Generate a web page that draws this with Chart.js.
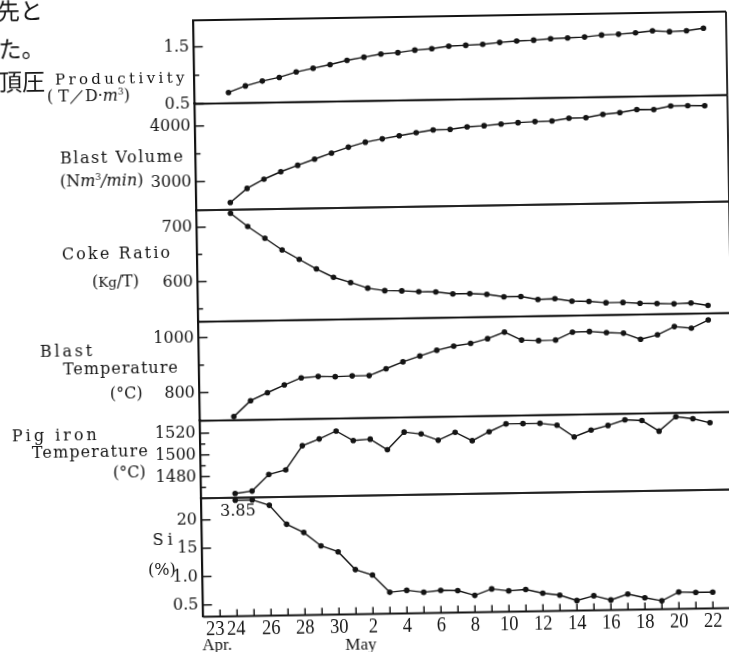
<!DOCTYPE html>
<html>
<head>
<meta charset="utf-8">
<script src="https://cdn.jsdelivr.net/npm/chart.js@4.4.1/dist/chart.umd.min.js"></script>
<style>
  html, body { margin: 0; padding: 0; background: #fff; overflow: hidden; width: 729px; height: 652px; }
  /* the scanned figure sits slightly tilted on the page */
  #sheet { position: absolute; left: 0; top: 0; width: 760px; height: 700px;
           transform: rotate(-0.945deg); transform-origin: 460px 320px; }
  #sheet canvas { position: absolute; left: 0; }
  .lab { position: absolute; white-space: nowrap; font-family: "DejaVu Serif", serif; font-size: 16px;
         color: #141414; line-height: 1; transform: translateY(-50%); }
  .small { font-size: 15px; }
  .jp { position: absolute; white-space: nowrap; font-family: "Noto Sans CJK JP", sans-serif; font-size: 23px;
        color: #141414; line-height: 1; transform: translateY(-50%); }
  sup { font-size: 9px; vertical-align: 6px; }
</style>
</head>
<body>
<div id="sheet"></div>
<script>
// Datos de operacion, 24 Abr - 22 May (un punto por dia)
const dates = ["4/24","4/25","4/26","4/27","4/28","4/29","4/30","5/1","5/2","5/3","5/4","5/5","5/6","5/7",
  "5/8","5/9","5/10","5/11","5/12","5/13","5/14","5/15","5/16","5/17","5/18","5/19","5/20","5/21","5/22"];

const productivity = [0.69,0.80,0.88,0.94,1.03,1.09,1.15,1.22,1.27,1.32,1.34,1.38,1.40,1.44,1.45,
  1.46,1.49,1.51,1.52,1.54,1.55,1.56,1.59,1.60,1.62,1.65,1.63,1.64,1.68];
const blastVolume = [2615,2865,3025,3155,3265,3370,3475,3575,3660,3715,3765,3815,3860,3865,3905,
  3920,3945,3965,3980,3985,4030,4035,4090,4115,4165,4160,4220,4220,4215];
const cokeRatio = [725,700,678,656,638,620,604,594,583,578,577,575,574,570,570,
  568,563,563,557,558,553,552,549,549,547,546,545,546,541];
const blastTemp = [711,768,796,823,848,852,850,852,852,876,900,920,940,954,963,
  979,1002,972,969,970,998,999,994,991,968,983,1012,1005,1034];
const pigIronTemp = [1464,1466,1481,1485,1507,1513,1520,1511,1512,1502,1518,1516,1510,1517,1509,
  1517,1524,1524,1524,1522,1511,1517,1521,1526,1525,1515,1528,1526,1522];
const silicon = [3.85,2.34,2.24,1.90,1.75,1.51,1.40,1.08,0.98,0.67,0.70,0.66,0.69,0.68,0.59,
  0.70,0.66,0.68,0.61,0.57,0.47,0.55,0.47,0.57,0.50,0.44,0.59,0.58,0.58];
const SI_CEIL = 2.34; // valores fuera de escala (3.85) se dibujan en el techo

// ticks del eje y (los que no tienen texto son marcas cortas)
const prodTicks = [0.5, 1.0, 1.5],            prodText = ["0.5", "", "1.5"];
const volTicks = [3000, 3500, 4000],          volText = ["3000", "", "4000"];
const cokeTicks = [550, 600, 650, 700],       cokeText = ["", "600", "", "700"];
const btTicks = [800, 900, 1000],             btText = ["800", "", "1000"];
const pigTicks = [1470,1480,1490,1500,1510,1520], pigText = ["", "1480", "", "1500", "", "1520"];
const siTicks = [0.5, 1.0, 1.5, 2.0],         siText = ["0.5", "1.0", "15", "20"];

// eje x: 23 Abr = 0 ... 22 May = 29
const xTickDays = [0,1,3,5,7,9,11,13,15,17,19,21,23,25,27,29];
const xTickText = ["23","24","26","28","30","2","4","6","8","10","12","14","16","18","20","22"];

const INK = "#141414";
const X_LEFT = 198.3, X_RIGHT = 731, X_MIN = -1, X_MAX = 30.34, CW = 770, MARGIN = 26;

const panels = [
  { values: productivity, min: 0.5,    max: 1.966,  ticks: prodTicks, text: prodText, top: 16,    bottom: 99.5 },
  { values: blastVolume,  min: 2486,   max: 4399,   ticks: volTicks,  text: volText,  top: 99.5,  bottom: 206 },
  { values: cokeRatio,    min: 526.3,  max: 731.3,  ticks: cokeTicks, text: cokeText, top: 206,   bottom: 317.5 },
  { values: blastTemp,    min: 697.8,  max: 1057.8, ticks: btTicks,   text: btText,   top: 317.5, bottom: 416.5 },
  { values: pigIronTemp,  min: 1460.1, max: 1531.5, ticks: pigTicks,  text: pigText,  top: 416.5, bottom: 494 },
  { values: silicon,      min: 0.292,  max: 2.383,  ticks: siTicks,   text: siText,   top: 494,   bottom: 612.5, ceil: SI_CEIL },
];

const sheet = document.getElementById("sheet");

function line(ctx, x1, y1, x2, y2, w) {
  ctx.lineWidth = w;
  ctx.beginPath(); ctx.moveTo(x1, y1); ctx.lineTo(x2, y2); ctx.stroke();
}

// marco del panel, marcas hacia adentro y eje de fechas
const frame = {
  id: "frame",
  afterDraw(chart, args, o) {
    const { ctx, chartArea: a, scales } = chart;
    ctx.save();
    ctx.strokeStyle = INK;
    ctx.fillStyle = INK;
    line(ctx, a.left, a.top, a.right, a.top, o.topW);
    line(ctx, a.right, a.top, a.right, a.bottom, 1.8);
    line(ctx, a.left, a.bottom, a.right, a.bottom, o.bottomW);
    const y = scales.y;
    y.ticks.forEach((t) => {
      const py = y.getPixelForValue(t.value);
      line(ctx, a.left, py, a.left + (t.label ? 9 : 5), py, 1.5);
    });
    if (o.dateAxis) {
      const x = scales.x;
      for (let d = 0; d <= 29; d++) {
        const px = x.getPixelForValue(d);
        line(ctx, px, a.bottom, px, a.bottom - 7, 1.5);
      }
      ctx.textAlign = "center";
      ctx.textBaseline = "middle";
      ctx.font = '21px "Liberation Serif", serif';
      xTickDays.forEach((d, i) => {
        const px = x.getPixelForValue(d) + (i === 0 ? -5 : i === 1 ? -1 : 0);
        ctx.save();
        ctx.translate(px, a.bottom + 13);
        ctx.scale(0.88, 1);
        ctx.fillText(xTickText[i], 0, 0);
        ctx.restore();
      });
      ctx.font = '17px "Liberation Serif", serif';
      ctx.fillText("Apr.", x.getPixelForValue(-0.2), a.bottom + 29);
      ctx.fillText("May", x.getPixelForValue(8.26), a.bottom + 31);
    }
    ctx.restore();
  },
};

panels.forEach((p, k) => {
  const last = k === panels.length - 1;
  const cTop = Math.floor(p.top) - MARGIN;
  const cBottom = last ? 690 : Math.ceil(p.bottom) + MARGIN;
  const cv = document.createElement("canvas");
  cv.width = CW;
  cv.height = cBottom - cTop;
  cv.style.top = cTop + "px";
  sheet.appendChild(cv);

  new Chart(cv, {
    type: "line",
    data: {
      datasets: [{
        data: p.values.map((v, i) => ({ x: i + 1, y: p.ceil ? Math.min(v, p.ceil) : v })),
        borderColor: INK,
        backgroundColor: INK,
        borderWidth: 1.4,
        pointRadius: 2.8,
        pointHoverRadius: 2.8,
        pointBorderWidth: 0,
        tension: 0,
      }],
    },
    options: {
      responsive: false,
      animation: false,
      events: [],
      layout: { padding: { left: 0, right: CW - X_RIGHT, top: p.top - cTop, bottom: cBottom - p.bottom } },
      plugins: {
        legend: { display: false },
        tooltip: { enabled: false },
        frame: { topW: k === 0 ? 2.2 : 1.5, bottomW: last ? 2.2 : 1.5, dateAxis: last },
      },
      scales: {
        x: { type: "linear", display: false, min: X_MIN, max: X_MAX },
        y: {
          type: "linear",
          min: p.min,
          max: p.max,
          afterFit: (s) => { s.width = X_LEFT; },
          afterBuildTicks: (s) => { s.ticks = p.ticks.map((v) => ({ value: v })); },
          grid: { display: false, drawTicks: false },
          border: { display: true, color: INK, width: 2.2 },
          ticks: {
            autoSkip: false,
            padding: 4.5,
            color: INK,
            font: { family: '"DejaVu Serif", serif', size: 16 },
            callback: (v, i) => p.text[i],
          },
        },
      },
    },
    plugins: [frame],
  });
});

// rotulos a la izquierda: [html, left, centro y, ancho objetivo, clase]
const sideLabels = [
  ["Productivity", 59, 72.5, 130, "small"],
  ["( T／D·<i>m</i><sup>3</sup>)", 50.7, 89.5, null, ""],
  ["Blast Volume", 62.7, 151.5, 123, ""],
  ["(N<i>m</i><sup>3</sup><i>/min</i>)", 62.3, 175, null, ""],
  ["Coke Ratio", 63, 248.4, 108, ""],
  ["(<small>Kg</small>/T)", 92.7, 275.6, null, ""],
  ["Blast", 39.5, 345.2, 52, ""],
  ["Temperature", 62.2, 362.7, 115, ""],
  ["(°C)", 108.8, 387.5, null, ""],
  ["Pig iron", 10, 429.3, 85, ""],
  ["Temperature", 29.8, 445.6, 116, ""],
  ["(°C)", 110.5, 467, null, ""],
  ["Si", 149, 535.1, 20, ""],
  ["(%)", 144, 565, null, ""],
  ["3.85", 217, 506.8, null, ""],
];
sideLabels.forEach(([html, left, cy, w, cls]) => {
  const el = document.createElement("div");
  el.className = "lab " + cls;
  el.innerHTML = html;
  el.style.left = left + "px";
  el.style.top = cy + "px";
  sheet.appendChild(el);
  if (w) {
    const n = el.textContent.length;
    const ls = (w - el.offsetWidth) / Math.max(1, n - 1);
    el.style.letterSpacing = ls.toFixed(2) + "px";
  }
});

// texto del articulo que asoma por la izquierda
[["先と", 2, 1.7], ["た。", 3, 40.2], ["頂圧", 3, 73.2]].forEach(([t, left, cy]) => {
  const el = document.createElement("div");
  el.className = "jp";
  el.textContent = t;
  el.style.left = left + "px";
  el.style.top = cy + "px";
  sheet.appendChild(el);
});
</script>
</body>
</html>
